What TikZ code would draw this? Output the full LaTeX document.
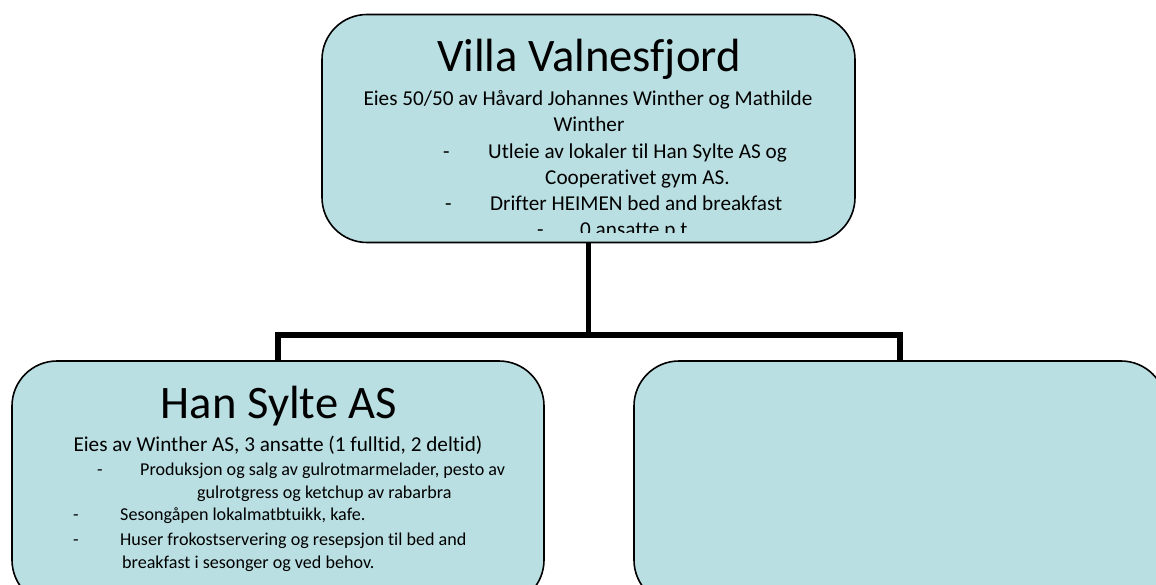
\documentclass[tikz,border=0pt]{standalone}
\usepackage{fontspec}
\setmainfont{Carlito}[Ligatures={NoCommon}, RawFeature={-liga;-clig;-dlig}]
\definecolor{boxfill}{RGB}{186,223,226}
\tikzset{
  orgbox/.style={draw=black, line width=1.6pt, fill=boxfill, rounded corners=45pt, inner sep=0pt},
  conn/.style={draw=black, line width=5.5pt, line join=miter},
  ttl/.style={font=\fontsize{46.6}{50}\selectfont, inner sep=0pt},
  body/.style={font=\fontsize{21.2}{25}\selectfont, inner sep=0pt},
  small/.style={font=\fontsize{18.1}{22}\selectfont, inner sep=0pt}
}
\begin{document}
\begin{tikzpicture}[x=1pt,y=-1pt]
\useasboundingbox (0,0) rectangle (1156,585);
\clip (0,0) rectangle (1156,585);
% boxes
\node[orgbox, minimum width=533pt, minimum height=228pt] (top) at (588.5,128.5) {};
\node[orgbox, minimum width=532pt, minimum height=244pt] (left) at (278,483) {};
\node[orgbox, minimum width=532pt, minimum height=244pt] (right) at (900,483) {};
% connectors
\coordinate (j) at (589,335);
\draw[conn] (top.south) -- (top.south |- j);
\draw[conn] (left.north) -- (left.north |- j) -- (right.north |- j) -- (right.north);
% top box text
\begin{scope}
\clip (322,15) rectangle (855,233);
\node[ttl, anchor=base] (t1) at (589,72) {Villa Valnesfjord};
\node[body, anchor=base] (t2) at (588,106) {Eies 50/50 av Håvard Johannes Winther og Mathilde};
\node[body, anchor=base] (t3) at (589,131.7) {Winther};
\node[body, anchor=base west] (t4d) at (443,159) {-};
\node[body, anchor=base west] (t4) at (488,159) {Utleie av lokaler til Han Sylte AS og};
\node[body, anchor=base west] (t5) at (545,185) {Cooperativet gym AS.};
\node[body, anchor=base west] (t6d) at (445,210.7) {-};
\node[body, anchor=base west] (t6) at (490,210.7) {Drifter HEIMEN bed and breakfast};
\node[body, anchor=base west] (t7d) at (537,236.7) {-};
\node[body, anchor=base west] (t7) at (580,236.7) {0 ansatte p.t.};
\end{scope}
% left box text
\node[ttl, anchor=base] (l1) at (279,418.3) {Han Sylte AS};
\node[body, anchor=base] (l2) at (278,451.7) {Eies av Winther AS, 3 ansatte (1 fulltid, 2 deltid)};
\node[small, anchor=base west] (l3d) at (97,475) {-};
\node[small, anchor=base west] (l3) at (140,475) {Produksjon og salg av gulrotmarmelader, pesto av};
\node[small, anchor=base west] (l4) at (197,498.3) {gulrotgress og ketchup av rabarbra};
\node[small, anchor=base west] (l5d) at (73,520) {-};
\node[small, anchor=base west] (l5) at (120,520) {Sesongåpen lokalmatbtuikk, kafe.};
\node[small, anchor=base west] (l6d) at (73,545) {-};
\node[small, anchor=base west] (l6) at (120,545) {Huser frokostservering og resepsjon til bed and};
\node[small, anchor=base west] (l7) at (122,568.3) {breakfast i sesonger og ved behov.};
\end{tikzpicture}
\end{document}
